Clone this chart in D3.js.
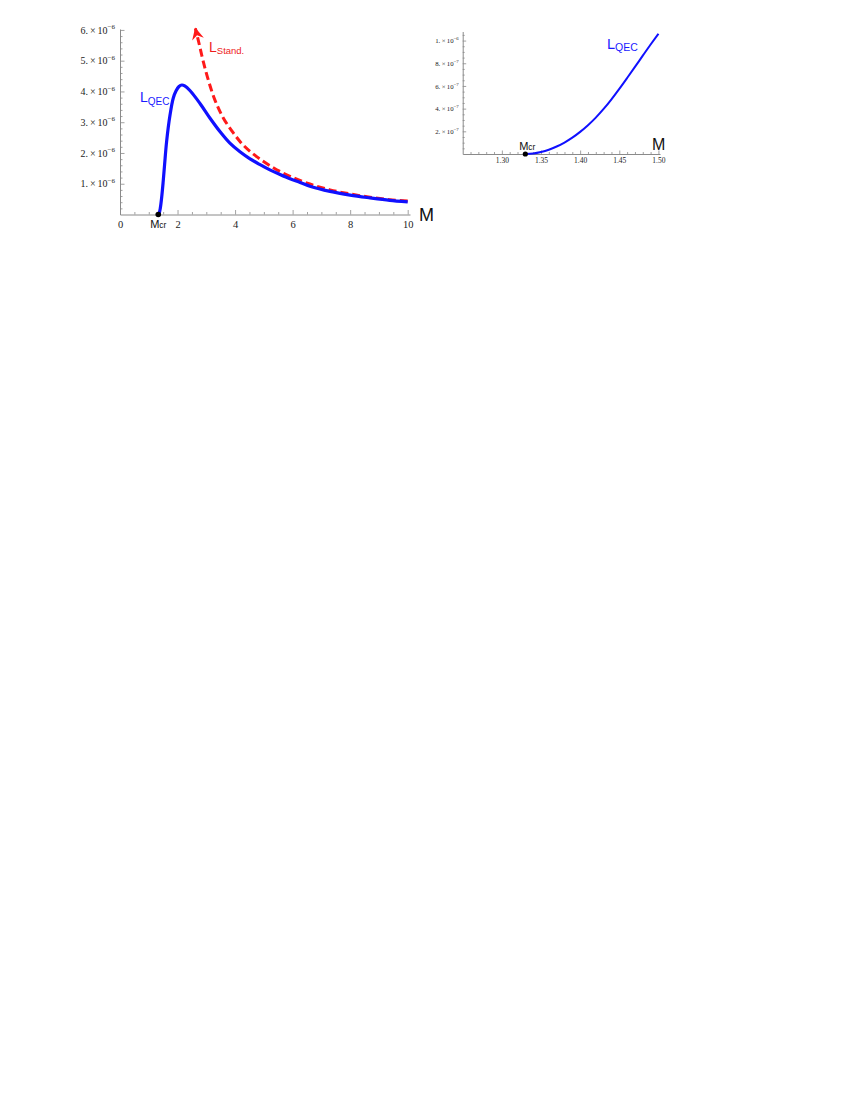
<!DOCTYPE html>
<html>
<head>
<meta charset="utf-8">
<script src="https://cdn.jsdelivr.net/npm/d3@7"></script>
<style>
  body { margin: 0; background: #fff; }
  svg { display: block; }
</style>
</head>
<body>
<div id="chart"></div>
<script>
// Main panel: L_QEC (blue) and L_Stand. (red dashed), values in units of 1e-6
const mainM    = [1.33, 1.36, 1.40, 1.45, 1.50, 1.55, 1.62, 1.74, 1.85, 1.95, 2.05, 2.15, 2.25, 2.43, 2.78, 3.13, 3.48, 3.82, 4.17, 4.52, 4.87, 5.21, 5.56, 5.91, 6.26, 6.60, 7.30, 8.00, 8.69, 9.38, 10.0];
const mainLQEC = [0.00, 0.04, 0.20, 0.57, 1.06, 1.62, 2.37, 3.24, 3.78, 4.02, 4.16, 4.21, 4.18, 4.03, 3.61, 3.13, 2.69, 2.32, 2.04, 1.81, 1.62, 1.45, 1.30, 1.16, 1.04, 0.92, 0.75, 0.63, 0.54, 0.46, 0.41];

const standM = [10.0, 9.38, 8.69, 7.99, 7.30, 6.60, 5.91, 5.33, 4.75, 4.29, 3.94, 3.59, 3.30, 3.07, 2.90, 2.75, 2.62];
const standL = [0.44, 0.48, 0.56, 0.67, 0.80, 0.99, 1.24, 1.52, 1.88, 2.25, 2.65, 3.14, 3.72, 4.37, 4.95, 5.55, 6.05];

// Inset panel: L_QEC near M_cr, values in units of 1e-6
const insetM = [1.33, 1.34, 1.35, 1.36, 1.37, 1.38, 1.39, 1.40, 1.41, 1.42, 1.43, 1.44, 1.45, 1.46, 1.47, 1.48, 1.49, 1.50];
const insetL = [0.000, 0.005, 0.018, 0.038, 0.066, 0.101, 0.144, 0.195, 0.254, 0.321, 0.397, 0.482, 0.574, 0.670, 0.768, 0.867, 0.965, 1.060];

const Mcr = 1.33;

// Tick labels
const mainXTicks = [0, 2, 4, 6, 8, 10];
const mainYTicks = [1, 2, 3, 4, 5, 6];          // mantissa, x10^-6
const insetXTicks = [1.30, 1.35, 1.40, 1.45, 1.50];
const insetYTicks = [0.2, 0.4, 0.6, 0.8, 1.0];  // in 1e-6
const insetYLabels = [["2.", "-7"], ["4.", "-7"], ["6.", "-7"], ["8.", "-7"], ["1.", "-6"]];

const svg = d3.select("#chart")
    .append("svg")
    .attr("width", 850)
    .attr("height", 1100);

svg.append("rect").attr("width", 850).attr("height", 1100).attr("fill", "#fff");

const axisColor = "#8a8a8a";
const serif = "'Liberation Serif', 'DejaVu Serif', serif";
const sans = "'Liberation Sans', Arial, sans-serif";

// helper: style an axis group
function styleAxis(g) {
    g.select(".domain").attr("stroke", axisColor).attr("stroke-width", 1);
    g.selectAll(".tick line").attr("stroke", axisColor).attr("stroke-width", 0.8);
}

// sci label "n.×10^e"
function sciLabel(sel, mant, exp, fs) {
    sel.text(null);
    sel.append("tspan").text(mant + "\u2009\u00d7\u200910");
    sel.append("tspan")
        .attr("dy", -fs * 0.45)
        .style("font-size", (fs * 0.7) + "px")
        .text(exp.replace("-", "\u2212"));
}

// ---------------- Main panel ----------------
const x = d3.scaleLinear().domain([0, 10.08]).range([120, 410]);
const y = d3.scaleLinear().domain([0, 6.03]).range([214.5, 29]);

// minor ticks
svg.append("g")
    .attr("transform", `translate(0,${y(0)})`)
    .call(d3.axisBottom(x).tickValues(d3.range(0.5, 10.01, 0.5).filter(v => v % 2 !== 0)).tickSize(-2.5).tickFormat(""))
    .call(g => { styleAxis(g); g.select(".domain").remove(); });

svg.append("g")
    .attr("transform", `translate(${x(0)},0)`)
    .call(d3.axisLeft(y).tickValues(d3.range(0.2, 6.01, 0.2).filter(v => Math.abs(v - Math.round(v)) > 0.01)).tickSize(-2.5).tickFormat(""))
    .call(g => { styleAxis(g); g.select(".domain").remove(); });

// major axes
svg.append("g")
    .attr("transform", `translate(0,${y(0)})`)
    .call(d3.axisBottom(x).tickValues(mainXTicks).tickSize(-4.5).tickSizeOuter(0).tickPadding(7))
    .call(styleAxis)
    .call(g => g.selectAll("text")
        .style("font-family", serif).style("font-size", "10.5px").attr("fill", "#222")
        .attr("y", 13.5).attr("dy", 0));

svg.append("g")
    .attr("transform", `translate(${x(0)},0)`)
    .call(d3.axisLeft(y).tickValues(mainYTicks).tickSize(-4.5).tickSizeOuter(0).tickPadding(5))
    .call(styleAxis)
    .call(g => g.selectAll("text")
        .style("font-family", serif).style("font-size", "10px").attr("fill", "#222")
        .each(function(d) { sciLabel(d3.select(this), d + ".", "-6", 10); }));

// arrow marker for L_Stand.
svg.append("defs").append("marker")
    .attr("id", "arrow")
    .attr("markerUnits", "userSpaceOnUse")
    .attr("viewBox", "-12 -7 14 14")
    .attr("markerWidth", 14)
    .attr("markerHeight", 14)
    .attr("refX", 0)
    .attr("refY", 0)
    .attr("orient", "auto")
    .append("path")
    .attr("d", "M1,0 L-11,-6 L-7,0 L-11,6 Z")
    .attr("fill", "#ff1a1a");

const lineMain = d3.line()
    .x(d => x(d[0]))
    .y(d => y(d[1]))
    .curve(d3.curveCatmullRom.alpha(0.5));

svg.append("path")
    .datum(standM.map((m, i) => [m, standL[i]]))
    .attr("d", lineMain)
    .attr("fill", "none")
    .attr("stroke", "#ff1a1a")
    .attr("stroke-width", 3)
    .attr("stroke-dasharray", "8,4")
    .attr("marker-end", "url(#arrow)");

svg.append("path")
    .datum(mainM.map((m, i) => [m, mainLQEC[i]]))
    .attr("d", lineMain)
    .attr("fill", "none")
    .attr("stroke", "#1010ff")
    .attr("stroke-width", 3.2);

svg.append("circle")
    .attr("cx", x(Mcr)).attr("cy", y(0)).attr("r", 2.8).attr("fill", "#000");

// labels
const lq = svg.append("text").attr("x", 140).attr("y", 102)
    .style("font-family", sans).attr("fill", "#1a1aff");
lq.append("tspan").style("font-size", "14px").text("L");
lq.append("tspan").attr("dy", 3).style("font-size", "10px").text("QEC");

const ls = svg.append("text").attr("x", 209).attr("y", 52)
    .style("font-family", sans).attr("fill", "#ee1c1c");
ls.append("tspan").style("font-size", "14px").text("L");
ls.append("tspan").attr("dy", 2).style("font-size", "9.5px").text("Stand.");

const mc = svg.append("text").attr("x", x(Mcr)).attr("y", 228)
    .attr("text-anchor", "middle").style("font-family", sans).attr("fill", "#111");
mc.append("tspan").style("font-size", "11px").text("M");
mc.append("tspan").style("font-size", "8.5px").text("cr");

svg.append("text").attr("x", 419).attr("y", 220.5)
    .style("font-family", sans).style("font-size", "18px").attr("fill", "#111").text("M");

// ---------------- Inset panel ----------------
const xi = d3.scaleLinear().domain([1.25, 1.502]).range([462.7, 660]);
const yi = d3.scaleLinear().domain([0, 1.08]).range([154, 31.5]);

svg.append("g")
    .attr("transform", `translate(0,${yi(0)})`)
    .call(d3.axisBottom(xi).tickValues(d3.range(126, 151, 1).filter(v => v % 5 !== 0).map(v => v / 100)).tickSize(-2).tickFormat(""))
    .call(g => { styleAxis(g); g.select(".domain").remove(); });

svg.append("g")
    .attr("transform", `translate(${xi(1.25)},0)`)
    .call(d3.axisLeft(yi).tickValues(d3.range(1, 22, 1).filter(v => v % 4 !== 0).map(v => v * 0.05)).tickSize(-2).tickFormat(""))
    .call(g => { styleAxis(g); g.select(".domain").remove(); });

svg.append("g")
    .attr("transform", `translate(0,${yi(0)})`)
    .call(d3.axisBottom(xi).tickValues(insetXTicks).tickSize(-3.5).tickSizeOuter(0))
    .call(styleAxis)
    .call(g => g.selectAll("text")
        .style("font-family", serif).style("font-size", "7.5px").attr("fill", "#222")
        .attr("y", 9).attr("dy", 0).text(d => d.toFixed(2)));

svg.append("g")
    .attr("transform", `translate(${xi(1.25)},0)`)
    .call(d3.axisLeft(yi).tickValues(insetYTicks).tickSize(-3.5).tickSizeOuter(0).tickPadding(4))
    .call(styleAxis)
    .call(g => g.selectAll("text")
        .style("font-family", serif).style("font-size", "6.8px").attr("fill", "#222")
        .each(function(d, i) { sciLabel(d3.select(this), insetYLabels[i][0], insetYLabels[i][1], 6.8); }));

svg.append("path")
    .datum(insetM.map((m, i) => [m, insetL[i]]))
    .attr("d", d3.line().x(d => xi(d[0])).y(d => yi(d[1])).curve(d3.curveMonotoneX))
    .attr("fill", "none")
    .attr("stroke", "#1010ff")
    .attr("stroke-width", 2);

svg.append("circle")
    .attr("cx", xi(Mcr)).attr("cy", yi(0)).attr("r", 2.6).attr("fill", "#000");

const mci = svg.append("text").attr("x", xi(Mcr) + 2).attr("y", 150)
    .attr("text-anchor", "middle").style("font-family", sans).attr("fill", "#111");
mci.append("tspan").style("font-size", "11px").text("M");
mci.append("tspan").style("font-size", "8.5px").text("cr");

const lqi = svg.append("text").attr("x", 607).attr("y", 49)
    .style("font-family", sans).attr("fill", "#1a1aff");
lqi.append("tspan").style("font-size", "14.5px").text("L");
lqi.append("tspan").attr("dy", 2).style("font-size", "10.5px").text("QEC");

svg.append("text").attr("x", 652).attr("y", 150)
    .style("font-family", sans).style("font-size", "16px").attr("fill", "#111").text("M");
</script>
</body>
</html>
